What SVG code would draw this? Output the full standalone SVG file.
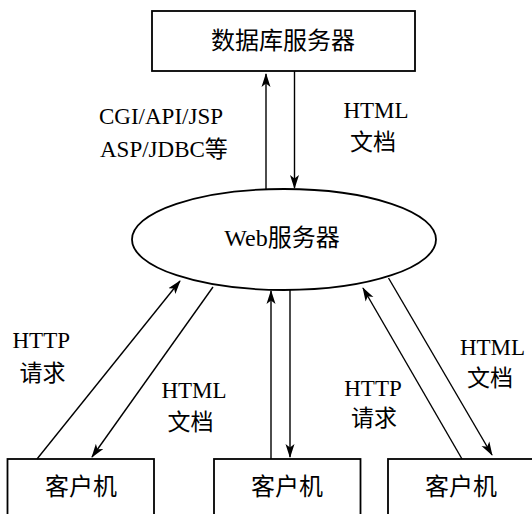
<svg xmlns="http://www.w3.org/2000/svg" width="532" height="514" viewBox="0 0 532 514">
  <style>
    .box { fill: #fff; stroke: #000; stroke-width: 1.8; }
    .edge { fill: none; stroke: #000; stroke-width: 1.4; }
    text { font-family: "Liberation Serif", "Noto Sans CJK SC", serif; font-size: 23px; fill: #000; }
    .node-label { font-size: 24px; text-anchor: middle; }
    .mid { text-anchor: middle; }
  </style>
  <defs>
    <marker id="arrow" viewBox="0 0 14 10" refX="13" refY="5" markerWidth="14" markerHeight="10" markerUnits="userSpaceOnUse" orient="auto">
      <path d="M0,0.5 L14,5 L0,9.5 L3.5,5 Z" fill="#000"/>
    </marker>
  </defs>

  <rect width="532" height="514" fill="#fff"/>

  <!-- database server -->
  <g id="db-server">
    <rect class="box" x="152" y="11" width="263" height="60"/>
    <text class="node-label" x="283" y="49">数据库服务器</text>
  </g>

  <!-- web server -->
  <g id="web-server">
    <ellipse class="box" cx="284" cy="239.5" rx="152" ry="50.5"/>
    <text class="node-label" x="282" y="246">Web服务器</text>
  </g>

  <!-- clients -->
  <g id="client-1">
    <rect class="box" x="7.5" y="459" width="146.5" height="70"/>
    <text class="node-label" x="81" y="495">客户机</text>
  </g>
  <g id="client-2">
    <rect class="box" x="214" y="459" width="146.5" height="70"/>
    <text class="node-label" x="287" y="495">客户机</text>
  </g>
  <g id="client-3">
    <rect class="box" x="388" y="459" width="146.5" height="70"/>
    <text class="node-label" x="461" y="495">客户机</text>
  </g>

  <!-- connectors -->
  <g id="connectors">
    <line class="edge" x1="266" y1="189" x2="266" y2="74" marker-end="url(#arrow)"/>
    <line class="edge" x1="294.5" y1="71" x2="294.5" y2="188" marker-end="url(#arrow)"/>
    <line class="edge" x1="37" y1="459" x2="180" y2="281" marker-end="url(#arrow)"/>
    <line class="edge" x1="213" y1="287" x2="92" y2="457" marker-end="url(#arrow)"/>
    <line class="edge" x1="271" y1="459" x2="271" y2="291" marker-end="url(#arrow)"/>
    <line class="edge" x1="290" y1="290" x2="290" y2="457" marker-end="url(#arrow)"/>
    <line class="edge" x1="462" y1="459" x2="363" y2="288" marker-end="url(#arrow)"/>
    <line class="edge" x1="388.5" y1="278" x2="492" y2="455" marker-end="url(#arrow)"/>
  </g>

  <!-- connector labels -->
  <g id="labels">
    <text x="99" y="124">CGI/API/JSP</text>
    <text x="100" y="157">ASP/JDBC等</text>
    <text class="mid" x="376" y="118">HTML</text>
    <text class="mid" x="373" y="150">文档</text>

    <text x="12.5" y="348">HTTP</text>
    <text class="mid" x="42.5" y="381">请求</text>
    <text class="mid" x="194" y="398">HTML</text>
    <text class="mid" x="190.5" y="430">文档</text>

    <text class="mid" x="373" y="396">HTTP</text>
    <text class="mid" x="374" y="426">请求</text>
    <text class="mid" x="492.5" y="355">HTML</text>
    <text class="mid" x="490" y="386">文档</text>
  </g>
</svg>
